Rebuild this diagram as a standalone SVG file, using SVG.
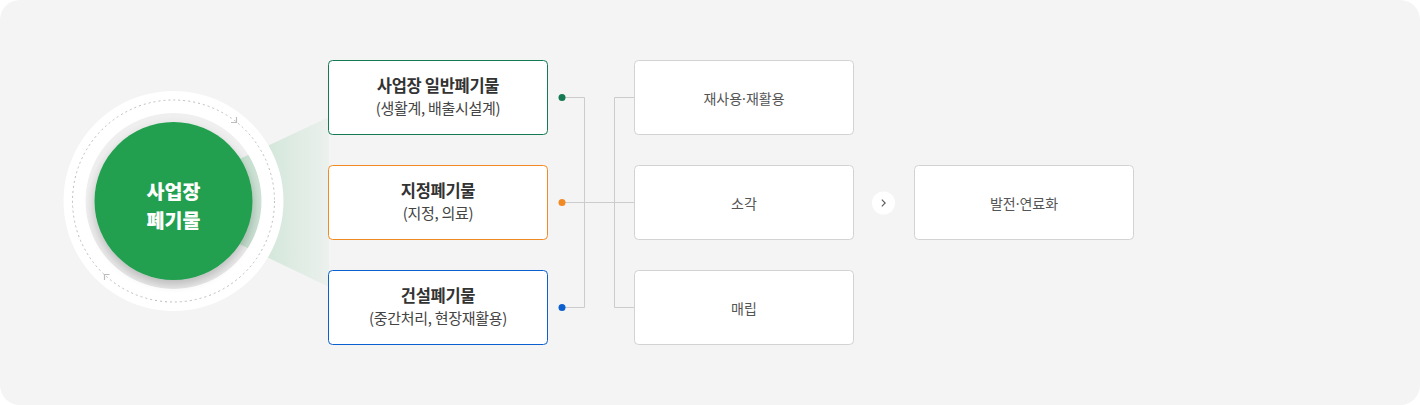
<svg xmlns="http://www.w3.org/2000/svg" width="1420" height="405" viewBox="0 0 1420 405">
  <style>
    text { font-family: "Noto Sans CJK KR", "Noto Sans", sans-serif; text-anchor: middle; dominant-baseline: central; }
    .title { font-size: 16.5px; font-weight: 700; fill: #333; letter-spacing: -0.3px; }
    .sub { font-size: 15px; font-weight: 400; fill: #444; letter-spacing: -0.3px; }
    .dest { font-size: 14px; font-weight: 400; fill: #555; }
    .dot { font-family: "Noto Sans", "DejaVu Sans", sans-serif; }
    .hub { font-size: 19.5px; font-weight: 900; fill: #fff; }
    .box { fill: #fff; stroke-width: 1; }
    .destbox { fill: #fff; stroke: #d2d2d2; stroke-width: 1; }
    .conn { fill: none; stroke: #cccccc; stroke-width: 1; }
  </style>
  <defs>
    <linearGradient id="beam" gradientUnits="userSpaceOnUse" x1="240" y1="0" x2="329" y2="0">
      <stop offset="0" stop-color="#1f9e4e" stop-opacity="0.2"/>
      <stop offset="1" stop-color="#1f9e4e" stop-opacity="0.04"/>
    </linearGradient>
    <radialGradient id="ringGrad" cx="0.5" cy="0.55" r="0.5">
      <stop offset="0.8" stop-color="#dedede"/>
      <stop offset="1" stop-color="#efefef"/>
    </radialGradient>
    <filter id="shadow" x="-30%" y="-30%" width="160%" height="160%">
      <feDropShadow dx="0" dy="4" stdDeviation="5" flood-color="#000" flood-opacity="0.16"/>
    </filter>
  </defs>

  <rect x="0" y="0" width="1420" height="405" rx="20" ry="20" fill="#f4f4f4"/>

  <g id="hub">
    <circle cx="173.5" cy="201" r="88" fill="url(#ringGrad)"/>
    <polygon points="150,201 329,117 329,287" fill="url(#beam)"/>
    <path d="M173.5,91 a110,110 0 1,0 0.01,0 Z M173.5,113 a88,88 0 1,1 -0.01,0 Z" fill="#ffffff" fill-rule="evenodd"/>
    <circle cx="173.5" cy="201" r="101" fill="none" stroke="#bdbdbd" stroke-width="1" stroke-dasharray="2 3"/>
    <polyline points="236.5,117 236.5,122.5 231,122.5" fill="none" stroke="#bdbdbd" stroke-width="1.2"/>
    <polyline points="109.5,274.5 104.5,274.5 104.5,280" fill="none" stroke="#bdbdbd" stroke-width="1.2"/>
    <circle cx="173.5" cy="201" r="79" fill="#21a04f" filter="url(#shadow)"/>
    <text class="hub" x="173.5" y="190.5">사업장</text>
    <text class="hub" x="173.5" y="219.5">폐기물</text>
  </g>

  <g id="connectors">
    <polyline class="conn" points="562,97.5 584.5,97.5 584.5,307.5 562,307.5"/>
    <line class="conn" x1="562" y1="202.5" x2="634" y2="202.5"/>
    <polyline class="conn" points="634,97.5 614.5,97.5 614.5,307.5 634,307.5"/>
    <circle cx="562" cy="97.5" r="3.5" fill="#137a52"/>
    <circle cx="562" cy="202.5" r="3.5" fill="#f28a23"/>
    <circle cx="562" cy="307.5" r="3.5" fill="#0b5fcf"/>
  </g>

  <g id="node-general">
    <rect class="box" x="328.5" y="60.5" width="219" height="74" rx="4" stroke="#137a52"/>
    <text class="title" x="438" y="85">사업장 일반폐기물</text>
    <text class="sub" x="438" y="107.5">(생활계, 배출시설계)</text>
  </g>
  <g id="node-designated">
    <rect class="box" x="328.5" y="165.5" width="219" height="74" rx="4" stroke="#f28a23"/>
    <text class="title" x="438" y="190">지정폐기물</text>
    <text class="sub" x="438" y="212.5">(지정, 의료)</text>
  </g>
  <g id="node-construction">
    <rect class="box" x="328.5" y="270.5" width="219" height="74" rx="4" stroke="#0b5fcf"/>
    <text class="title" x="438" y="295">건설폐기물</text>
    <text class="sub" x="438" y="317.5">(중간처리, 현장재활용)</text>
  </g>

  <g id="node-reuse">
    <rect class="destbox" x="634.5" y="60.5" width="219" height="74" rx="4"/>
    <text class="dest" x="744" y="97.5">재사용<tspan class="dot">·</tspan>재활용</text>
  </g>
  <g id="node-incineration">
    <rect class="destbox" x="634.5" y="165.5" width="219" height="74" rx="4"/>
    <text class="dest" x="744" y="202.5">소각</text>
  </g>
  <g id="node-landfill">
    <rect class="destbox" x="634.5" y="270.5" width="219" height="74" rx="4"/>
    <text class="dest" x="744" y="307.5">매립</text>
  </g>

  <g id="arrow-next">
    <circle cx="883.5" cy="203" r="11.5" fill="#ffffff"/>
    <polyline points="881.8,199.6 885.2,203 881.8,206.4" fill="none" stroke="#555" stroke-width="1.1"/>
  </g>

  <g id="node-energy">
    <rect class="destbox" x="914.5" y="165.5" width="219" height="74" rx="4"/>
    <text class="dest" x="1024" y="202.5">발전<tspan class="dot">·</tspan>연료화</text>
  </g>
</svg>
